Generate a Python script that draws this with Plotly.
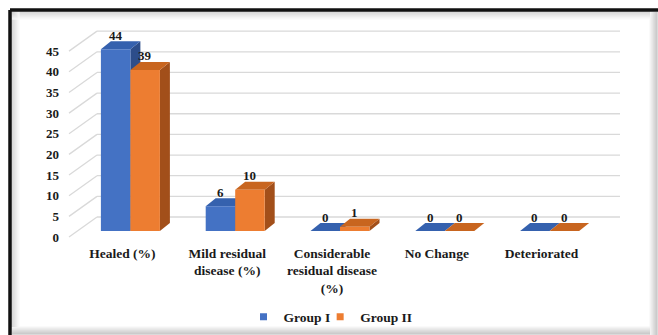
import plotly.graph_objects as go

# ---------------- data ----------------
categories = ["Healed (%)", "Mild residual<br>disease (%)", "Considerable<br>residual disease<br>(%)",
              "No Change", "Deteriorated"]
group1 = [44, 6, 0, 0, 0]
group2 = [39, 10, 1, 0, 0]
series_names = ["Group I", "Group II"]
y_ticks = [0, 5, 10, 15, 20, 25, 30, 35, 40, 45]

# ---------------- styling / geometry ----------------
W_PX, H_PX = 658, 335
L, R, T, B = 78, 602, 20, 250          # plot area in pixels
PW, PH = R - L, B - T
SCALE = 4.13                           # pixels per unit value
BASE_BAR = 231                         # pixel of value 0 at bar front
BASE_LBL = 237                         # pixel of value 0 for tick labels
BASE_WALL = 217                        # pixel of value 0 on back wall
DX_PX, DY_PX = 10, 8                   # 3D depth offset
BARGAP = 0.437
FONT = "Liberation Serif"
front = ["#4472C4", "#ED7D31"]
top_c = ["#3561AE", "#C8651F"]
side_c = ["#2C4D8A", "#A24F1A"]


def px_x(p):
    return (p - L) / PW


def px_y(p):
    return (B - p) / PH


y_range = [-(B - BASE_BAR) / SCALE, (BASE_BAR - T) / SCALE]
y2_range = [-(B - BASE_LBL) / SCALE, (BASE_LBL - T) / SCALE]
cat_px = PW / len(categories)
dx = DX_PX / cat_px
dy = DY_PX / SCALE
bw = (1 - BARGAP) / 2

xs = list(range(len(categories)))
fig = go.Figure()
for k, (vals, name) in enumerate(zip([group1, group2], series_names)):
    fig.add_trace(go.Bar(x=xs, y=vals, name=name, marker=dict(color=front[k], line=dict(width=0)),
                         hoverinfo="skip", showlegend=False, legendgroup=name))
for k, name in enumerate(series_names):
    fig.add_trace(go.Scatter(x=[None], y=[None], mode="markers", name=name, legendgroup=name,
                             marker=dict(symbol="square", size=7, color=front[k]), hoverinfo="skip"))
fig.add_trace(go.Scatter(x=[], y=[], yaxis="y2", showlegend=False, hoverinfo="skip"))

shapes = []
# back wall gridlines and floor/side diagonals
for v in y_ticks:
    yw = px_y(BASE_WALL - v * SCALE)
    yl = px_y(BASE_LBL - v * SCALE)
    shapes.append(dict(type="line", xref="paper", yref="paper", x0=px_x(97), x1=px_x(620), y0=yw, y1=yw,
                       line=dict(color="#d9d9d9", width=1.3), layer="below"))
    shapes.append(dict(type="line", xref="paper", yref="paper", x0=px_x(69), x1=px_x(97), y0=yl, y1=yw,
                       line=dict(color="#d9d9d9", width=1.3), layer="below"))

# 3D side and top faces derived from data
for i in xs:
    for k, vals in enumerate([group1, group2]):
        v = vals[i]
        xl = i - bw + k * bw
        xr = xl + bw
        if v > 0:
            shapes.append(dict(type="path", xref="x", yref="y", layer="below",
                               path=f"M{xr},0 L{xr+dx},{dy} L{xr+dx},{v+dy} L{xr},{v} Z",
                               fillcolor=side_c[k], line=dict(width=0)))
        shapes.append(dict(type="path", xref="x", yref="y", layer="below",
                           path=f"M{xl},{v} L{xl+dx},{v+dy} L{xr+dx},{v+dy} L{xr},{v} Z",
                           fillcolor=top_c[k], line=dict(width=0)))

# frame with shadows
for j in range(8):
    g = 245 - j * 9
    col = f"rgb({g},{g},{g})"
    shapes.append(dict(type="line", xref="paper", yref="paper", x0=px_x(650 + j), x1=px_x(650 + j),
                       y0=px_y(12), y1=px_y(340), line=dict(color=col, width=1)))
    shapes.append(dict(type="line", xref="paper", yref="paper", x0=px_x(12), x1=px_x(650),
                       y0=px_y(327 + j), y1=px_y(327 + j), line=dict(color=col, width=1)))
for j in range(8):
    g = 200 + j * 7
    col = f"rgb({g},{g},{g})"
    shapes.append(dict(type="line", xref="paper", yref="paper", x0=px_x(12), x1=px_x(650),
                       y0=px_y(12 + j), y1=px_y(12 + j), line=dict(color=col, width=1)))
    shapes.append(dict(type="line", xref="paper", yref="paper", x0=px_x(12 + j), x1=px_x(12 + j),
                       y0=px_y(12), y1=px_y(327), line=dict(color=col, width=1)))
shapes.append(dict(type="line", xref="paper", yref="paper", x0=px_x(10), x1=px_x(660),
                   y0=px_y(10), y1=px_y(10), line=dict(color="#111111", width=3.5)))
shapes.append(dict(type="line", xref="paper", yref="paper", x0=px_x(10), x1=px_x(10),
                   y0=px_y(10), y1=px_y(340), line=dict(color="#111111", width=3.5)))

annotations = []
for i in xs:
    for k, vals in enumerate([group1, group2]):
        v = vals[i]
        xc = i - bw / 2 + k * bw
        annotations.append(dict(x=xc, y=v + dy, xref="x", yref="y", text=str(v), showarrow=False,
                                yanchor="middle", yshift=6,
                                font=dict(family=FONT, size=13, color="#1a1a1a", weight="bold")))

fig.update_layout(
    width=W_PX, height=H_PX,
    margin=dict(l=L, r=W_PX - R, t=T, b=H_PX - B, autoexpand=False),
    paper_bgcolor="white", plot_bgcolor="rgba(0,0,0,0)",
    barmode="group", bargap=BARGAP, bargroupgap=0,
    font=dict(family=FONT, size=12, color="#1a1a1a"),
    xaxis=dict(range=[-0.5, len(categories) - 0.5], tickvals=xs, ticktext=categories,
               showgrid=False, zeroline=False, showline=False, ticks="", ticklabelshift=-8,
               ticklabelstandoff=-7, automargin=False,
               tickfont=dict(family=FONT, size=13.5, color="#1a1a1a", weight="bold")),
    yaxis=dict(range=y_range, showgrid=False, zeroline=False, showticklabels=False, showline=False,
               automargin=False),
    yaxis2=dict(range=y2_range, overlaying="y", side="left", anchor="x", tickvals=y_ticks,
                showgrid=False, zeroline=False, showline=False, ticks="", ticklabelstandoff=18,
                automargin=False,
                tickfont=dict(family=FONT, size=13, color="#1a1a1a", weight="bold")),
    legend=dict(orientation="h", xref="container", yref="container",
                x=338 / W_PX, xanchor="center", y=1 - 317 / H_PX, yanchor="middle",
                font=dict(family=FONT, size=13.5, color="#1a1a1a", weight="bold"),
                itemwidth=30, indentation=-15, tracegroupgap=0, bgcolor="rgba(0,0,0,0)"),
    shapes=shapes,
    annotations=annotations,
    showlegend=True,
)

fig.write_html("out.html")
